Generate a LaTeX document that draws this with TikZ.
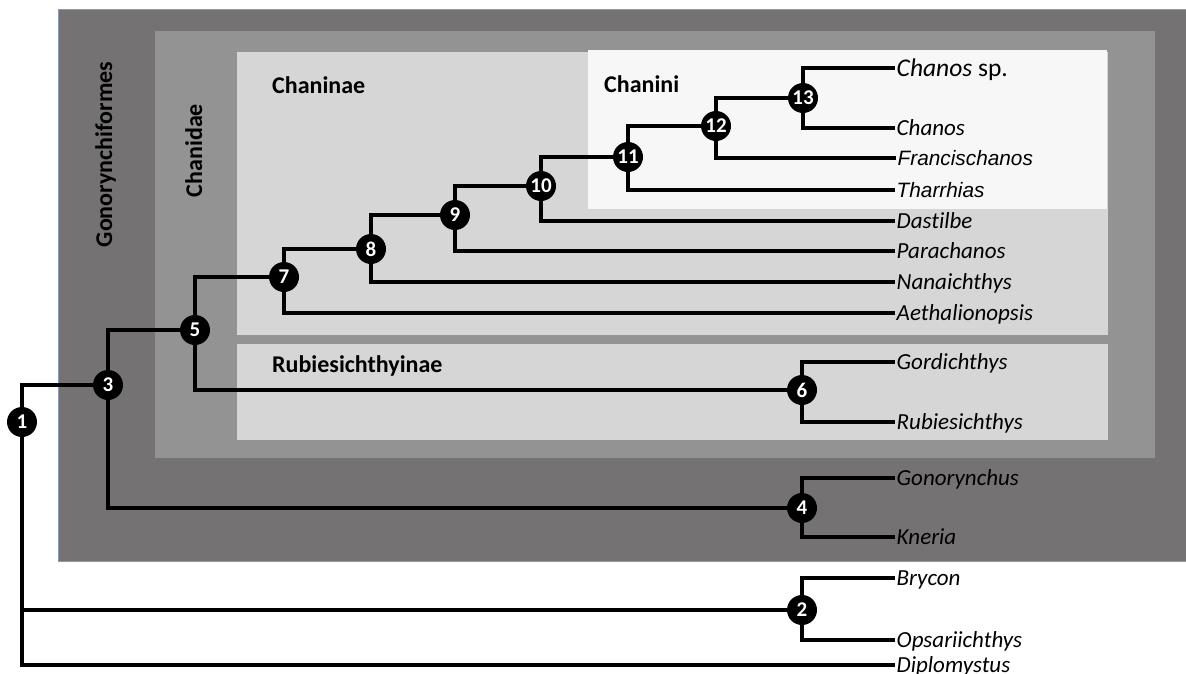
\documentclass[tikz,border=0pt]{standalone}
\usepackage{fontspec}
\setmainfont{Carlito}[Ligatures={NoCommon}]
\newfontfamily\arialfont{Liberation Sans}
\pgfdeclarelayer{bg}
\pgfdeclarelayer{edges}
\pgfsetlayers{bg,edges,main}
\definecolor{gonoC}{HTML}{757273}
\definecolor{chanidC}{HTML}{939393}
\definecolor{subfC}{HTML}{D6D6D6}
\definecolor{tribeC}{HTML}{F7F7F7}
\definecolor{rimC}{HTML}{8C98B4}
\begin{document}
\begin{tikzpicture}[x=1pt,y=-1pt,
  leaf/.style={anchor=west, inner xsep=1.5pt, inner ysep=0pt, text height=14.5pt, text depth=0pt,
               font=\fontsize{23}{27}\selectfont\itshape},
  leafA/.style={leaf, text height=14.8pt, font=\fontsize{20.8}{24}\selectfont\arialfont\itshape},
  num/.style={circle, fill=black, text=white, inner sep=0pt, minimum size=30pt,
              font=\fontsize{21}{21}\selectfont\bfseries},
  grp/.style={font=\fontsize{24}{28}\selectfont\bfseries, inner sep=0pt},
  br/.style={line width=3.2pt, black}]
\useasboundingbox (0,0) rectangle (1186,673);

% background boxes
\begin{pgfonlayer}{bg}
\fill[white] (0,0) rectangle (1186,673);
\filldraw[fill=gonoC, draw=rimC, line width=1pt] (58,9) rectangle (1190,561);
\fill[chanidC] (155,31) rectangle (1155,458);
\fill[subfC] (237,52) rectangle (1108,335);
\fill[subfC] (237,344) rectangle (1108,440);
\fill[tribeC] (588,50) rectangle (1107,209);
\end{pgfonlayer}

% group labels
\node[grp, rotate=90, anchor=base] (gono) at (112,154.5) {Gonorynchiformes};
\node[grp, rotate=90, anchor=base] (chanid) at (202,150.5) {Chanidae};
\node[grp, anchor=base west] (chaninae) at (272,93) {Chaninae};
\node[grp, anchor=base west] (chanini) at (604,92) {Chanini};
\node[grp, anchor=base west] (rubies) at (272,372) {Rubiesichthyinae};

% internal nodes
\node[num] (n1) at (22,422) {1};
\node[num] (n2) at (802,610) {2};
\node[num] (n3) at (108,385) {3};
\node[num] (n4) at (802,508) {4};
\node[num] (n5) at (195,330) {5};
\node[num] (n6) at (802,390) {6};
\node[num] (n7) at (284,277) {7};
\node[num] (n8) at (371,249) {8};
\node[num] (n9) at (455,215) {9};
\node[num] (n10) at (541,186) {10};
\node[num] (n11) at (628,157) {11};
\node[num] (n12) at (716,126) {12};
\node[num] (n13) at (803,98) {13};

% leaves
\node[leaf, text height=16.5pt, font=\fontsize{25.5}{29}\selectfont] (chsp) at (895,68) {\itshape Chanos\upshape{} sp.};
\node[leaf] (chanos) at (895,128) {Chanos};
\node[leafA] (franc) at (896,158) {Francischanos};
\node[leafA] (tharr) at (895,190) {Tharrhias};
\node[leaf] (dast) at (895,221) {Dastilbe};
\node[leaf] (parach) at (895,251) {Parachanos};
\node[leaf] (nanai) at (895,282) {Nanaichthys};
\node[leaf] (aethal) at (895,313) {Aethalionopsis};
\node[leaf] (gordi) at (895,362) {Gordichthys};
\node[leaf] (rubi) at (895,422) {Rubiesichthys};
\node[leaf] (gonor) at (895,478) {Gonorynchus};
\node[leaf] (kner) at (895,537) {Kneria};
\node[leaf] (bryc) at (895,578) {Brycon};
\node[leaf] (opsa) at (895,640) {Opsariichthys};
\node[leaf] (diplo) at (895,665) {Diplomystus};

% branches
\begin{pgfonlayer}{edges}
\draw[br] (n1) |- (n3);
\draw[br] (n1) |- (n2);
\draw[br] (n1) |- (diplo);
\draw[br] (n2) |- (bryc);
\draw[br] (n2) |- (opsa);
\draw[br] (n3) |- (n5);
\draw[br] (n3) |- (n4);
\draw[br] (n4) |- (gonor);
\draw[br] (n4) |- (kner);
\draw[br] (n5) |- (n7);
\draw[br] (n5) |- (n6);
\draw[br] (n6) |- (gordi);
\draw[br] (n6) |- (rubi);
\draw[br] (n7) |- (n8);
\draw[br] (n7) |- (aethal);
\draw[br] (n8) |- (n9);
\draw[br] (n8) |- (nanai);
\draw[br] (n9) |- (n10);
\draw[br] (n9) |- (parach);
\draw[br] (n10) |- (n11);
\draw[br] (n10) |- (dast);
\draw[br] (n11) |- (n12);
\draw[br] (n11) |- (tharr);
\draw[br] (n12) |- (n13);
\draw[br] (n12) |- (franc);
\draw[br] (n13) |- (chsp);
\draw[br] (n13) |- (chanos);
\end{pgfonlayer}
\end{tikzpicture}
\end{document}
